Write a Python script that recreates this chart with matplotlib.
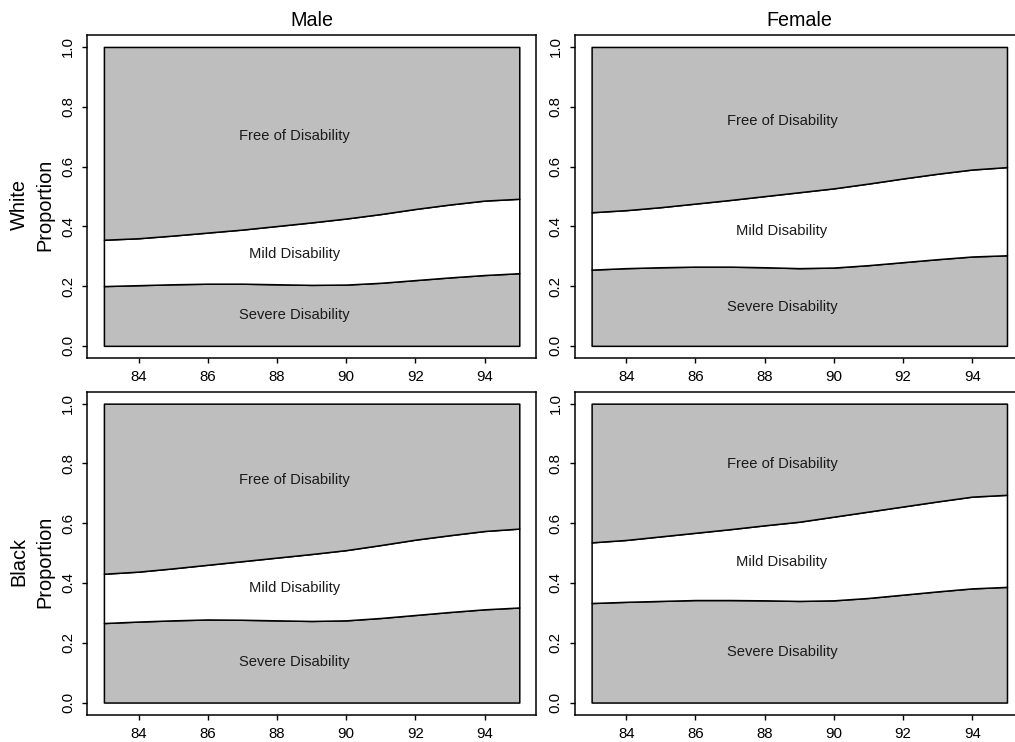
import numpy as np
import matplotlib
matplotlib.use("Agg")
from matplotlib import pyplot as plt

plt.rcParams['font.family'] = ['Liberation Sans', 'DejaVu Sans']

ages = [83, 84, 85, 86, 87, 88, 89, 90, 91, 92, 93, 94, 95]

# cumulative proportions: lower = severe, upper = severe + mild
white_male_lower = [0.200, 0.203, 0.206, 0.208, 0.208, 0.206, 0.204, 0.205, 0.211, 0.220, 0.229, 0.237, 0.243]
white_male_upper = [0.355, 0.360, 0.369, 0.379, 0.389, 0.401, 0.413, 0.426, 0.441, 0.458, 0.473, 0.486, 0.492]
white_female_lower = [0.255, 0.260, 0.263, 0.265, 0.265, 0.263, 0.260, 0.262, 0.270, 0.280, 0.290, 0.299, 0.303]
white_female_upper = [0.447, 0.454, 0.464, 0.476, 0.488, 0.501, 0.514, 0.527, 0.543, 0.560, 0.576, 0.590, 0.598]
black_male_lower = [0.266, 0.271, 0.275, 0.278, 0.277, 0.275, 0.273, 0.275, 0.283, 0.293, 0.303, 0.312, 0.318]
black_male_upper = [0.431, 0.438, 0.449, 0.461, 0.473, 0.485, 0.497, 0.510, 0.527, 0.545, 0.560, 0.574, 0.582]
black_female_lower = [0.333, 0.337, 0.340, 0.343, 0.343, 0.342, 0.340, 0.342, 0.350, 0.361, 0.372, 0.382, 0.387]
black_female_upper = [0.536, 0.544, 0.556, 0.568, 0.580, 0.593, 0.605, 0.622, 0.639, 0.656, 0.673, 0.689, 0.695]

sex_titles = ['Male', 'Female']
race_labels = ['White', 'Black']
region_labels = ['Free of Disability', 'Mild Disability', 'Severe Disability']
x_ticks = [84, 86, 88, 90, 92, 94]
y_ticks = [0.0, 0.2, 0.4, 0.6, 0.8, 1.0]

panels = [[(white_male_lower, white_male_upper), (white_female_lower, white_female_upper)],
          [(black_male_lower, black_male_upper), (black_female_lower, black_female_upper)]]

W, H = 1015, 742
fig = plt.figure(figsize=(W / 100, H / 100), dpi=100)

GRAY = '#bebebe'
lefts = [87.3, 575.0]
tops = [35.0, 391.7]
aw, ah = 448.6, 322.8
label_x = 88.5

for r in range(2):
    for c in range(2):
        lower, upper = panels[r][c]
        ax = fig.add_axes([lefts[c] / W, 1 - (tops[r] + ah) / H, aw / W, ah / H])
        ax.fill_between(ages, 0, lower, facecolor=GRAY, edgecolor='black', linewidth=1.1)
        ax.fill_between(ages, lower, upper, facecolor='white', edgecolor='black', linewidth=1.1)
        ax.fill_between(ages, upper, 1, facecolor=GRAY, edgecolor='black', linewidth=1.1)

        lo = np.interp(label_x, ages, lower)
        up = np.interp(label_x, ages, upper)
        for txt, yv in zip(region_labels, [(up + 1) / 2, (lo + up) / 2, lo / 2]):
            ax.text(label_x, yv, txt, ha='center', va='center', fontsize=10.6, color='#1a1a1a')

        ax.set_xlim(82.52, 95.48)
        ax.set_ylim(-0.04, 1.04)
        ax.set_xticks(x_ticks)
        ax.set_xticklabels([str(t) for t in x_ticks])
        ax.set_yticks(y_ticks)
        ax.set_yticklabels([f'{t:.1f}' for t in y_ticks], rotation=90, va='center')
        ax.tick_params(direction='out', length=3.3, width=1.0, labelsize=10.8, color='black')
        ax.tick_params(axis='x', pad=5.5)
        ax.tick_params(axis='y', pad=5.5)
        for sp in ax.spines.values():
            sp.set_linewidth(1.1)

        if r == 0:
            ax.set_title(sex_titles[c], fontsize=14.2, pad=6.5)
        if c == 0:
            fig.text(32.2 / W, 1 - (tops[r] + 170) / H, race_labels[r] + '\nProportion',
                     rotation=90, ha='center', va='center', fontsize=14.4,
                     linespacing=1.45, multialignment='center')

fig.savefig('out.png', dpi=100)
